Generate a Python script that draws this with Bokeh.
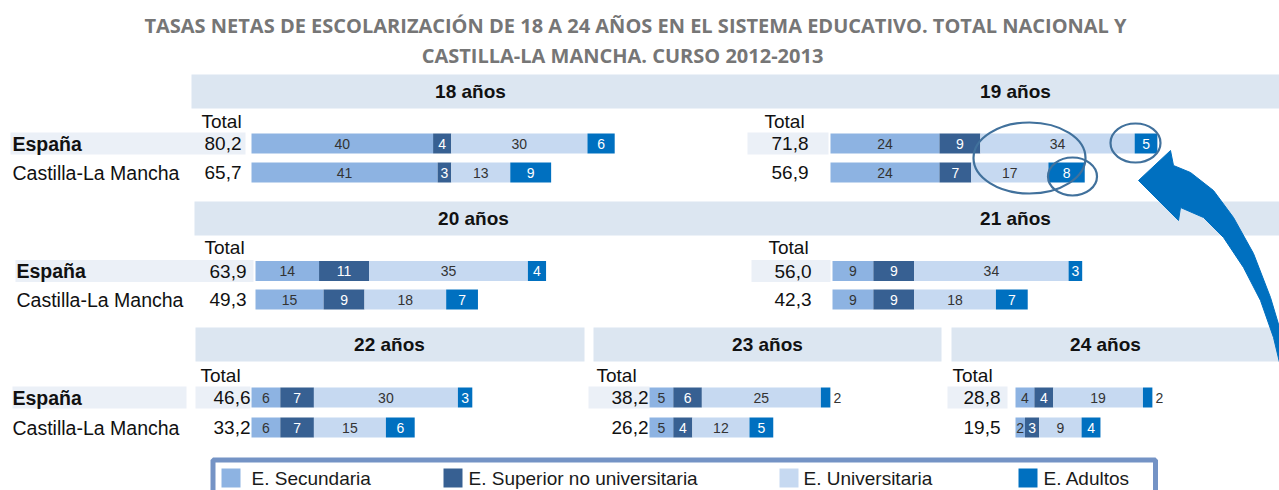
from bokeh.plotting import figure
from bokeh.models import Range1d, ColumnDataSource
from bokeh.core.properties import value
from bokeh.embed import file_html
from bokeh.resources import INLINE

# ---------------- data ----------------
title_lines = ["TASAS NETAS DE ESCOLARIZACIÓN DE 18 A 24 AÑOS EN EL SISTEMA EDUCATIVO. TOTAL NACIONAL Y",
               "CASTILLA-LA MANCHA. CURSO 2012-2013"]
ages = ["18 años", "19 años", "20 años", "21 años", "22 años", "23 años", "24 años"]
regions = ["España", "Castilla-La Mancha"]
series_names = ["E. Secundaria", "E. Superior no universitaria", "E. Universitaria", "E. Adultos"]

total_esp = [80.2, 71.8, 63.9, 56.0, 46.6, 38.2, 28.8]
total_clm = [65.7, 56.9, 49.3, 42.3, 33.2, 26.2, 19.5]

secundaria_esp = [40, 24, 14, 9, 6, 5, 4]
superior_esp = [4, 9, 11, 9, 7, 6, 4]
universitaria_esp = [30, 34, 35, 34, 30, 25, 19]
adultos_esp = [6, 5, 4, 3, 3, 2, 2]

secundaria_clm = [41, 24, 15, 9, 6, 5, 2]
superior_clm = [3, 7, 9, 9, 7, 4, 3]
universitaria_clm = [13, 17, 18, 18, 15, 12, 9]
adultos_clm = [9, 8, 7, 7, 6, 5, 4]

# ---------------- styling / layout ----------------
colors = ["#8DB3E2", "#376092", "#C6D9F1", "#0070C0"]
label_colors = ["#333333", "#FFFFFF", "#333333", "#FFFFFF"]
HEADER = "#DCE6F1"
ROWBG = "#EBF0F7"
FONT = value("Liberation Sans")
W, H = 1279, 490

# per panel: bar start x, px per unit, y España, y CLM, total right x, "Total" x, "Total" y, label x
panels = [
    (251, 4.54, 143, 172, 241, 201, 121, 12),
    (830, 4.54, 143, 172, 808, 764, 121, None),
    (255, 4.54, 270.5, 299, 246, 204, 247, 16),
    (832, 4.54, 270.5, 299, 811, 768, 247, None),
    (251, 4.80, 397, 427, 250, 200, 375, 12),
    (649, 4.76, 397, 427, 648, 596, 375, None),
    (1015, 4.72, 397, 427, 1000, 952, 375, None),
]
headers = [  # x0, x1, y0, y1, label center x
    (191, 1290, 74, 108, [470, 1015]),
    (194, 1290, 201, 235, [473, 1015]),
]
headers3 = [(195, 584, 389), (593, 941, 767), (951, 1290, 1105)]
row3_y = (327, 361)
rowbg = [
    (10, 245, 143), (747, 828, 143),
    (15, 253, 270.5), (751, 830, 270.5),
    (12, 186, 397), (195, 250, 397), (588, 649, 397), (947, 1007, 397),
]
BAR_H = 20

p = figure(width=W, height=H, x_range=Range1d(0, W), y_range=Range1d(H, 0),
           output_backend="svg", toolbar_location=None,
           x_axis_location=None, y_axis_location=None, min_border=0)
p.outline_line_color = None
p.grid.visible = False
p.background_fill_color = "white"
p.border_fill_color = "white"

# title
p.text(x=[635, 622], y=[25, 55], text=title_lines, text_font=value("Open Sans"),
       text_font_style="bold", text_font_size="20px", text_color="#767676",
       text_align="center", text_baseline="middle")

# header bands
hl, hr, ht, hb, hx, hy, ht_txt = [], [], [], [], [], [], []
k = 0
for (x0, x1, y0, y1, cx) in headers:
    hl.append(x0); hr.append(x1); ht.append(y0); hb.append(y1)
    for c in cx:
        hx.append(c); hy.append((y0 + y1) / 2); ht_txt.append(ages[k]); k += 1
for (x0, x1, c) in headers3:
    hl.append(x0); hr.append(x1); ht.append(row3_y[0]); hb.append(row3_y[1])
    hx.append(c); hy.append(sum(row3_y) / 2); ht_txt.append(ages[k]); k += 1
p.quad(left=hl, right=hr, top=ht, bottom=hb, fill_color=HEADER, line_color=None)
p.text(x=hx, y=hy, text=ht_txt, text_font=FONT, text_font_style="bold",
       text_font_size="19px", text_color="#111111", text_align="center", text_baseline="middle")

# España row backgrounds
p.quad(left=[r[0] for r in rowbg], right=[r[1] for r in rowbg],
       top=[r[2] - 11 for r in rowbg], bottom=[r[2] + 11 for r in rowbg],
       fill_color=ROWBG, line_color=None)

# bars
esp = [secundaria_esp, superior_esp, universitaria_esp, adultos_esp]
clm = [secundaria_clm, superior_clm, universitaria_clm, adultos_clm]
q = dict(left=[], right=[], top=[], bottom=[], color=[])
lc = dict(x=[], y=[], text=[], color=[])
lo = dict(x=[], y=[], text=[], color=[])
for i, (x0, kk, ye, yc, tr, tx, yt, lx) in enumerate(panels):
    for vals, yy in ((esp, ye), (clm, yc)):
        cum = 0
        for s in range(4):
            v = vals[s][i]
            left = x0 + kk * cum
            right = x0 + kk * (cum + v)
            q["left"].append(left); q["right"].append(right)
            q["top"].append(yy - BAR_H / 2); q["bottom"].append(yy + BAR_H / 2)
            q["color"].append(colors[s])
            if s == 3 and right - left < 12:
                lo["x"].append(right + 3); lo["y"].append(yy); lo["text"].append(str(v))
                lo["color"].append("#333333")
            else:
                lc["x"].append((left + right) / 2); lc["y"].append(yy); lc["text"].append(str(v))
                lc["color"].append(label_colors[s])
            cum += v
p.quad(left="left", right="right", top="top", bottom="bottom", fill_color="color",
       line_color=None, source=ColumnDataSource(q))
p.text(x="x", y="y", text="text", text_color="color", source=ColumnDataSource(lc),
       text_font=FONT, text_font_size="14px", text_align="center", text_baseline="middle")
p.text(x="x", y="y", text="text", text_color="color", source=ColumnDataSource(lo),
       text_font=FONT, text_font_size="14px", text_align="left", text_baseline="middle")

# totals, "Total" words, row labels
fmt = lambda v: f"{v:.1f}".replace(".", ",")
tx_, ty_, tt_ = [], [], []
wx, wy = [], []
for i, (x0, kk, ye, yc, tr, tx, yt, lx) in enumerate(panels):
    tx_ += [tr, tr]; ty_ += [ye, yc]; tt_ += [fmt(total_esp[i]), fmt(total_clm[i])]
    wx.append(tx); wy.append(yt)
p.text(x=tx_, y=ty_, text=tt_, text_font=FONT, text_font_size="19px", text_color="#111111",
       text_align="right", text_baseline="middle")
p.text(x=wx, y=wy, text=["Total"] * len(wx), text_font=FONT, text_font_size="19px",
       text_color="#111111", text_align="left", text_baseline="middle")
ex = [pp[7] for pp in panels if pp[7] is not None]
ey = [pp[2] for pp in panels if pp[7] is not None]
cy = [pp[3] for pp in panels if pp[7] is not None]
p.text(x=ex, y=ey, text=[regions[0]] * len(ex), text_font=FONT, text_font_style="bold",
       text_font_size="19.5px", text_color="#111111", text_align="left", text_baseline="middle")
p.text(x=ex, y=cy, text=[regions[1]] * len(ex), text_font=FONT,
       text_font_size="19.5px", text_color="#111111", text_align="left", text_baseline="middle")

# annotations: ellipses and arrow
p.ellipse(x=[1029, 1135, 1072], y=[157.5, 142.5, 176], width=[112, 50, 49], height=[71, 39, 38],
          fill_color=None, line_color="#41719C", line_width=2.2)
arrow_x = [1138, 1170, 1173, 1190, 1213, 1233, 1253, 1270, 1279, 1290, 1290, 1279, 1273, 1260,
           1243, 1223, 1203, 1180, 1178]
arrow_y = [180, 150, 165, 172, 190, 217, 253, 297, 327, 360, 400, 362, 337, 300,
           267, 237, 217, 207, 220]
p.patch(x=arrow_x, y=arrow_y, fill_color="#0070C0", line_color="#0070C0", line_width=1)

# legend
lg_x = [221, 443, 779, 1018]
lg_tx = [251, 468, 803, 1043]
p.quad(left=212.5, right=1155, top=459.5, bottom=510, fill_color=None,
       line_color="#7493C5", line_width=5)
p.quad(left=lg_x, right=[v + 19 for v in lg_x], top=468, bottom=487, fill_color=colors,
       line_color=None)
p.text(x=lg_tx, y=[478] * 4, text=series_names, text_font=FONT, text_font_size="19px",
       text_color="#1a1a1a", text_align="left", text_baseline="middle")

open("out.html", "w").write(file_html(p, INLINE))
